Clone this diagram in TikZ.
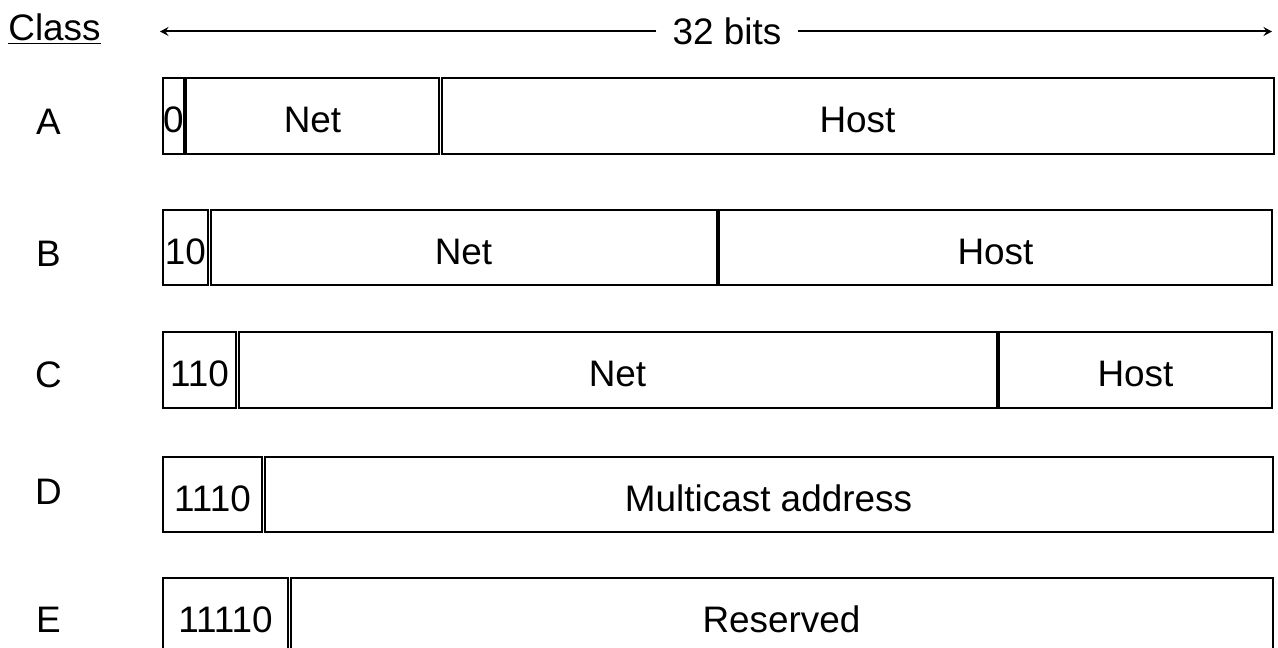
\documentclass[tikz,border=0pt]{standalone}
\usepackage{fontspec}
\setmainfont{Liberation Sans}
\usepackage{tikz}
\usetikzlibrary{arrows.meta,positioning}

\begin{document}
\begin{tikzpicture}[
  x=0.02cm, y=-0.02cm,
  font=\fontsize{21}{25}\selectfont,
  field/.style={draw, line width=0.04cm, minimum height=1.52cm, inner xsep=0pt,
                text height=19pt, text depth=0pt},
  wd/.style={minimum width=#1*0.02cm},
  cls/.style={inner sep=0pt},
  node distance=0.01cm,
  >={Stealth[length=0.17cm, width=0.18cm, inset=0.06cm]},
]
\useasboundingbox (0,0) rectangle (1278,648);
\node[anchor=base, inner sep=0pt] (class) at (54.5,40.5) {\underline{Class}};
\node[inner ysep=0pt, inner xsep=0.32cm] (bits) at (727,31.5) {32 bits};
\coordinate (msb) at (160,31.5);
\coordinate (lsb) at (1272,31.5);
\draw[->, line width=0.04cm] (bits) -- (msb);
\draw[->, line width=0.04cm] (bits) -- (lsb);
\node[cls] (A) at (48.5,121.5) {A};
\node[field, wd=20, anchor=west] (a0) at (162,116) {0};
\node[field, wd=253, right=of a0] (aNet) {Net};
\node[field, wd=832, right=of aNet] (aHost) {Host};
\node[cls] (B) at (48.5,253.5) {B};
\node[field, wd=45, anchor=west] (b0) at (162,247.5) {10};
\node[field, wd=506, right=of b0] (bNet) {Net};
\node[field, wd=553, right=of bNet] (bHost) {Host};
\node[cls] (C) at (48.5,375) {C};
\node[field, wd=73, anchor=west] (c0) at (162,370) {110};
\node[field, wd=758, right=of c0] (cNet) {Net};
\node[field, wd=273, right=of cNet] (cHost) {Host};
\node[cls] (D) at (48.5,491.5) {D};
\node[field, wd=99, anchor=west] (d0) at (162,494.5) {1110};
\node[field, wd=1008, right=of d0] (dAddr) {Multicast address};
\node[cls] (E) at (48.5,619.5) {E};
\node[field, wd=125, anchor=west] (e0) at (162,616) {11110};
\node[field, wd=982, right=of e0] (eRes) {Reserved};
\end{tikzpicture}
\end{document}
